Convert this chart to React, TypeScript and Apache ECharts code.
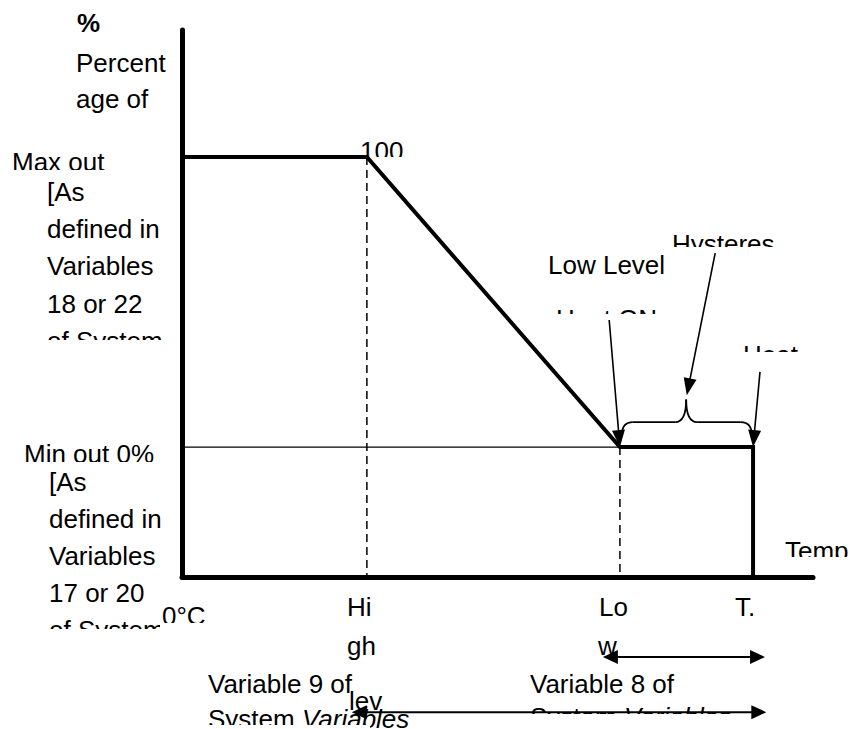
import React, { useEffect, useRef } from "react";
import * as echarts from "echarts";

// Axis ranges (x: temperature scale, 0 = 0°C; y: output %, 0 = min out, 100 = max out)
const X_RANGE = [0, 100];
const Y_RANGE = [-44.8, 143.8];

// Key temperatures
const HIGH = 29.3;
const LOW = 69.4;
const T_END = 90.5;

// Output profile
const profileX = [0, HIGH, LOW, T_END, T_END];
const profileY = [100, 100, 0, 0, Y_RANGE[0]];

// Thin min-output reference line
const minLineX = [0, LOW];
const minLineY = [0, 0];

// Annotation arrows (from -> to, data coords)
const arrowFrom = [
  [67.7, 43.8],
  [84.5, 66.9],
  [91.6, 25.9],
];
const arrowTo = [
  [LOW, 0],
  [80.0, 17.9],
  [T_END, 0],
];

// Hysteresis brace
const braceX = [LOW + 0.3, 79.9, T_END - 0.2];
const braceY = [4.0, 8.6, 16.4];

// Span arrows under the axis
const spanY = [-72.4, -91.4];
const spanFrom = [66.7, 26.9];
const spanTo = [92.4, 92.6];

const FONT = '"Liberation Sans", Arial, sans-serif';

export default function App() {
  const ref = useRef<HTMLDivElement>(null);

  useEffect(() => {
    if (!ref.current) return;
    const chart = echarts.init(ref.current, null, { renderer: "svg" });
    const zip = (xs: number[], ys: number[]) => xs.map((x, i) => [x, ys[i]]);

    chart.setOption({
      animation: false,
      backgroundColor: "#ffffff",
      grid: { left: 182, right: 37, top: 30, bottom: 152 },
      xAxis: {
        type: "value",
        min: X_RANGE[0],
        max: X_RANGE[1],
        axisLine: { show: true, onZero: false, lineStyle: { color: "#000", width: 5 } },
        axisTick: { show: false },
        axisLabel: { show: false },
        splitLine: { show: false },
      },
      yAxis: {
        type: "value",
        min: Y_RANGE[0],
        max: Y_RANGE[1],
        axisLine: { show: true, onZero: false, lineStyle: { color: "#000", width: 5 } },
        axisTick: { show: false },
        axisLabel: { show: false },
        splitLine: { show: false },
      },
      series: [
        {
          type: "line",
          data: zip(minLineX, minLineY),
          symbol: "none",
          lineStyle: { color: "#000", width: 1.3 },
          z: 2,
        },
        {
          type: "line",
          data: zip([HIGH, HIGH], [100, Y_RANGE[0]]),
          symbol: "none",
          lineStyle: { color: "#000", width: 1.5, type: [8, 5] },
          z: 2,
        },
        {
          type: "line",
          data: zip([LOW, LOW], [0, Y_RANGE[0]]),
          symbol: "none",
          lineStyle: { color: "#000", width: 1.5, type: [8, 5] },
          z: 2,
        },
        {
          type: "line",
          data: zip(profileX, profileY),
          symbol: "none",
          lineStyle: { color: "#000", width: 4, join: "miter", cap: "butt" },
          z: 3,
        },
      ],
    });

    const px = (p: number[]) => chart.convertToPixel({ gridIndex: 0 }, p) as number[];

    const txt = (text: string, x: number, y: number, extra: any = {}) => ({
      type: "text",
      z: 0,
      silent: true,
      style: {
        text,
        x,
        y,
        fill: "#000",
        font: `26px ${FONT}`,
        textAlign: "left",
        textVerticalAlign: "middle",
        ...extra,
      },
    });
    const mask = (x: number, y: number, w: number, h: number) => ({
      type: "rect",
      z: 1,
      silent: true,
      shape: { x, y, width: w, height: h },
      style: { fill: "#ffffff" },
    });

    const arrowHead = (from: number[], tip: number[], len: number, hw: number) => {
      const dx = tip[0] - from[0];
      const dy = tip[1] - from[1];
      const d = Math.sqrt(dx * dx + dy * dy) || 1;
      const ux = dx / d, uy = dy / d;
      const nx = -uy, ny = ux;
      const bx = tip[0] - ux * len, by = tip[1] - uy * len;
      return {
        type: "polygon",
        z: 10,
        silent: true,
        shape: { points: [[tip[0], tip[1]], [bx + nx * hw, by + ny * hw], [bx - nx * hw, by - ny * hw]] },
        style: { fill: "#000" },
      };
    };
    const arrowLine = (a: number[], b: number[], w: number) => ({
      type: "line",
      z: 10,
      silent: true,
      shape: { x1: a[0], y1: a[1], x2: b[0], y2: b[1] },
      style: { stroke: "#000", lineWidth: w },
    });

    const g: any[] = [];

    // Texts
    g.push(txt("%", 77, 23, { font: `bold 26px ${FONT}` }));
    g.push(txt("Percent", 76, 63));
    g.push(txt("age of", 76, 99));

    g.push(txt("Max out", 12, 162));
    g.push(mask(4, 170, 150, 10));
    g.push(txt("100", 360, 151));
    g.push(mask(352, 157, 70, 18));

    ["[As", "defined in", "Variables", "18 or 22", "of System"].forEach((t, i) =>
      g.push(txt(t, 47, 192 + i * 37.2))
    );
    g.push(mask(40, 340, 136, 25));

    g.push(txt("Min out 0%", 24, 454));
    g.push(mask(8, 462, 168, 10));

    ["[As", "defined in", "Variables", "17 or 20", "of System"].forEach((t, i) =>
      g.push(txt(t, 49, 482 + i * 37))
    );
    g.push(mask(40, 629, 120, 25));
    g.push(txt("0°C", 162, 616));
    g.push(mask(160, 623, 60, 20));

    g.push(txt("Hi", 347, 607));
    g.push(txt("gh", 347, 646));
    g.push(txt("lev", 349, 701));

    g.push(txt("Lo", 599, 607));
    g.push(txt("w", 598, 646));
    g.push(txt("T.", 735, 607));

    g.push(txt("Temp", 785, 551));
    g.push(mask(778, 557, 72, 15));

    g.push(txt("Variable 9 of", 208, 684));
    g.push(
      txt("System {i|Variables}", 208, 719, {
        rich: { i: { fontStyle: "italic", fontSize: 26, fontFamily: FONT, fill: "#000" } },
      })
    );
    g.push(mask(200, 725, 170, 10));

    g.push(txt("Variable 8 of", 530, 684));
    g.push(
      txt("System {i|Variables}", 530, 717, {
        rich: { i: { fontStyle: "italic", fontSize: 26, fontFamily: FONT, fill: "#000" } },
      })
    );
    g.push(mask(522, 714, 250, 20));

    g.push(txt("Low Level", 548, 265));
    g.push(txt("Heat ON", 556, 319));
    g.push(mask(540, 314, 145, 28));

    g.push(txt("Hysteres", 672, 244));
    g.push(mask(664, 247, 130, 16));

    g.push(txt("Heat", 743, 355));
    g.push(mask(736, 352, 80, 20));

    // Annotation arrows
    arrowFrom.forEach((f, i) => {
      const a = px(f);
      const b = px(arrowTo[i]);
      const dx = b[0] - a[0], dy = b[1] - a[1];
      const d = Math.sqrt(dx * dx + dy * dy);
      const e = [b[0] - (dx / d) * 12, b[1] - (dy / d) * 12];
      g.push(arrowLine(a, e, 1.6));
      g.push(arrowHead(a, b, 17, 6.5));
    });

    // Brace
    const bl = px([braceX[0], braceY[0]]);
    const bf = px([braceX[0], braceY[1]]);
    const bm = px([braceX[1], braceY[1]]);
    const bt = px([braceX[1], braceY[2]]);
    const br = px([braceX[2], braceY[0]]);
    const fy = bf[1];
    const r = 11;
    const bez = (x1: number, y1: number, cx: number, cy: number, x2: number, y2: number) => ({
      type: "bezierCurve",
      z: 10,
      silent: true,
      shape: { x1, y1, x2, y2, cpx1: cx, cpy1: cy },
      style: { stroke: "#000", lineWidth: 1.8, fill: "none" },
    });
    g.push(bez(bl[0], bl[1], bl[0], fy, bl[0] + r, fy));
    g.push(arrowLine([bl[0] + r, fy], [bm[0] - r, fy], 1.8));
    g.push(bez(bm[0] - r, fy, bm[0], fy, bm[0], bt[1]));
    g.push(bez(bm[0], bt[1], bm[0], fy, bm[0] + r, fy));
    g.push(arrowLine([bm[0] + r, fy], [br[0] - r, fy], 1.8));
    g.push(bez(br[0] - r, fy, br[0], fy, br[0], br[1]));

    // Span arrows
    spanY.forEach((y, i) => {
      const a = px([spanFrom[i], y]);
      const b = px([spanTo[i], y]);
      g.push(arrowLine([a[0] + 10, a[1]], [b[0] - 10, b[1]], 2));
      g.push(arrowHead(b, a, 15, 7));
      g.push(arrowHead(a, b, 15, 7));
    });

    chart.setOption({ graphic: g });

    return () => chart.dispose();
  }, []);

  return (
    <div
      ref={ref}
      style={{ position: "fixed", left: 0, top: 0, width: 850, height: 729, background: "#fff" }}
    />
  );
}
